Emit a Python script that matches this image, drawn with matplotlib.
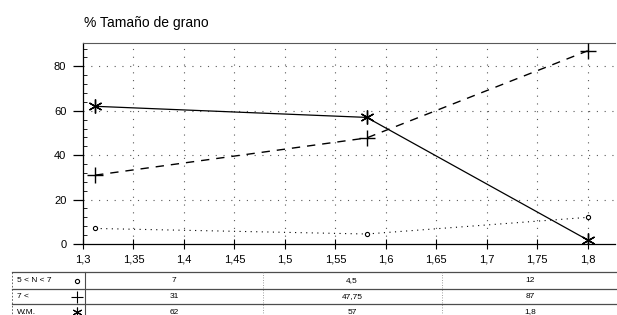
import matplotlib
matplotlib.use("Agg")
import matplotlib.pyplot as plt
from matplotlib.ticker import MultipleLocator, FuncFormatter
from matplotlib.lines import Line2D

plt.rcParams['font.family'] = ['Liberation Sans', 'DejaVu Sans']

# ---- data ----
x_vals = [1.312, 1.581, 1.80]
series_names = ["5 < N < 7", "7 <", "W.M."]
s_small = [7, 4.5, 12]        # 5 < N < 7
s_large = [31, 47.75, 87]     # 7 <
s_wm = [62, 57, 1.8]          # W.M.
table_text = [["7", "4,5", "12"], ["31", "47,75", "87"], ["62", "57", "1,8"]]
x_ticks = [1.3, 1.35, 1.4, 1.45, 1.5, 1.55, 1.6, 1.65, 1.7, 1.75, 1.8]
y_ticks = [0, 20, 40, 60, 80]
title = "% Tamaño de grano"

W, H = 617, 315
fig = plt.figure(figsize=(W / 100, H / 100), dpi=100)

def fx(px):
    return px / W

def fy(py):
    return 1 - py / H

ax_l, ax_r, ax_t, ax_b = 83, 615, 43, 244
ax = fig.add_axes([fx(ax_l), fy(ax_b), fx(ax_r - ax_l), (ax_b - ax_t) / H])
ax.set_xlim(1.3, 1.827)
ax.set_ylim(0, 90.5)

# grid
for y in y_ticks[1:]:
    ax.axhline(y, color='0.35', lw=0.8, ls=(0, (1, 6)), zorder=1)
for xv in x_ticks[1:]:
    ax.axvline(xv, color='0.35', lw=0.8, ls=(0, (1, 6)), zorder=1)

star = (6, 2, 0)
ax.plot(x_vals, s_small, color='black', lw=0.8, ls=(0, (1, 4)), marker='o',
        ms=3, mfc='white', mec='black', mew=0.8, zorder=3)
ax.plot(x_vals, s_large, color='black', lw=1.0, ls=(0, (6, 5)), marker='+',
        ms=11, mew=1.0, zorder=3)
ax.plot(x_vals, s_wm, color='black', lw=0.9, ls='-', marker=star,
        ms=10, mew=1.0, zorder=4)

for s in ['right']:
    ax.spines[s].set_visible(False)
ax.spines['top'].set_color('0.35')
ax.spines['top'].set_linewidth(0.8)
ax.spines['left'].set_linewidth(0.9)
ax.spines['bottom'].set_linewidth(0.9)

ax.set_xticks(x_ticks)
ax.set_yticks(y_ticks)
ax.xaxis.set_major_formatter(FuncFormatter(lambda v, p: ("%g" % v).replace('.', ',')))
ax.yaxis.set_minor_locator(MultipleLocator(4))
ax.tick_params(axis='x', direction='inout', length=7, width=0.8, labelsize=8, pad=4)
ax.tick_params(axis='y', which='major', direction='out', length=7, width=0.9, labelsize=8, pad=5)
ax.tick_params(axis='y', which='minor', direction='in', length=3, width=0.6)

fig.text(fx(84), fy(23), title, fontsize=10, ha='left', va='center')

# ---- data table ----
tc = '0.3'
row_lines = [272, 289, 304]
for ry in row_lines:
    fig.add_artist(Line2D([fx(12), fx(617)], [fy(ry), fy(ry)], color=tc, lw=0.9))
fig.add_artist(Line2D([fx(12), fx(12)], [fy(272), fy(315)], color=tc, lw=0.6, ls=(0, (2, 2))))
fig.add_artist(Line2D([fx(85), fx(85)], [fy(272), fy(315)], color=tc, lw=0.8))
for vx in [263, 442]:
    fig.add_artist(Line2D([fx(vx), fx(vx)], [fy(272), fy(315)], color='0.5', lw=0.6, ls=(0, (1, 2))))

row_centers = [281, 297, 312]
col_centers = [174, 352, 530]
markers = [('o', 3, 'white'), ('+', 8, 'black'), (star, 7, 'black')]
for i, name in enumerate(series_names):
    fig.text(fx(17), fy(row_centers[i]), name, fontsize=6, ha='left', va='center')
    m, ms, mfc = markers[i]
    fig.add_artist(Line2D([fx(77)], [fy(row_centers[i])], marker=m, ms=ms,
                          mfc=mfc, mec='black', mew=0.8, ls='none'))
    for j, txt in enumerate(table_text[i]):
        fig.text(fx(col_centers[j]), fy(row_centers[i]), txt, fontsize=6,
                 ha='center', va='center')

fig.savefig("out.png", dpi=100)
